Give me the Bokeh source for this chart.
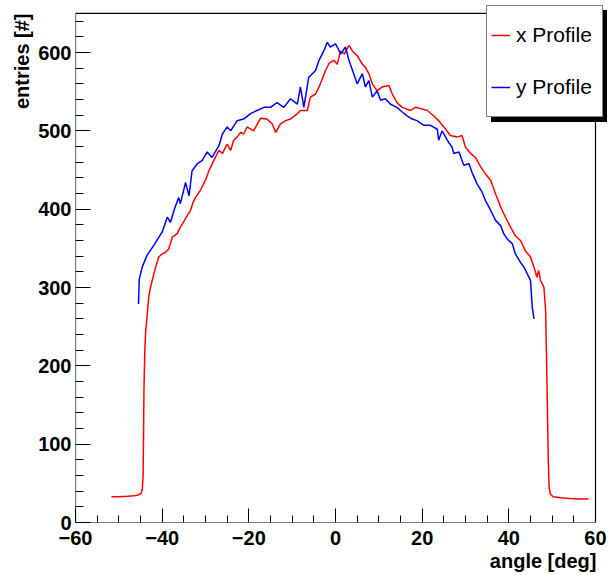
from bokeh.plotting import figure
from bokeh.models import Range1d, FixedTicker, Legend, LegendItem, Title
from bokeh.embed import file_html
from bokeh.resources import INLINE

# ---------------- data ----------------
x_profile_angle = [-51.7, -50.0, -48.0, -46.5, -45.5, -44.9, -44.6, -44.4, -44.3, -44.2,
                   -44.0, -43.8, -43.5, -43.1, -42.7, -42.3, -41.5, -40.8, -40.0, -39.2,
                   -38.5, -38.1, -37.7, -36.5, -35.8, -35.0, -34.2, -33.5, -32.9, -32.3,
                   -31.2, -30.0, -29.2, -28.1, -26.9, -26.1, -25.0, -24.2, -23.5, -22.7,
                   -21.9, -21.2, -20.4, -18.9, -17.3, -15.8, -14.6, -13.8, -12.7, -11.5,
                   -10.4, -8.8, -8.1, -6.5, -5.8, -4.6, -3.5, -2.3, -1.5, -0.4,
                   0.4, 1.2, 2.0, 3.1, 3.9, 5.0, 6.2, 6.9, 7.7, 8.5,
                   9.6, 10.8, 12.3, 13.1, 14.2, 15.4, 17.3, 18.5, 20.0, 21.2,
                   22.7, 23.8, 25.0, 26.5, 28.1, 29.2, 30.0, 31.2, 32.3, 33.5,
                   34.6, 35.8, 36.9, 38.1, 39.2, 40.4, 41.5, 42.7, 43.8, 45.0,
                   45.8, 46.5, 46.9, 47.3, 47.7, 48.1, 48.5, 48.8, 49.1, 49.3,
                   49.6, 50.2, 52.0, 54.0, 56.0, 58.4]
x_profile_entries = [33, 33, 33.5, 34, 35, 37, 42, 60, 110, 170,
                     220, 245, 262, 288, 300, 309, 326, 339, 343, 345,
                     349, 356, 364, 369, 377, 384, 392, 398, 408, 415,
                     424, 437, 449, 462, 475, 471, 483, 475, 488, 492,
                     498, 496, 505, 500, 516, 515, 509, 498, 509, 513,
                     515, 522, 526, 526, 543, 547, 560, 577, 586, 590,
                     585, 602, 598, 609, 602, 596, 585, 581, 573, 560,
                     551, 556, 558, 547, 536, 530, 526, 530, 528, 526,
                     519, 513, 505, 494, 492, 494, 479, 471, 466, 454,
                     445, 437, 420, 403, 390, 377, 366, 360, 347, 339,
                     326, 313, 322, 309, 305, 300, 270, 180, 80, 45,
                     36, 33, 31.5, 30.5, 30, 30]

y_profile_angle = [-45.46, -45.3, -44.6, -43.5, -41.9, -40.0, -38.8, -38.1, -37.3, -36.2,
                   -35.8, -34.6, -33.8, -33.1, -31.9, -30.8, -29.6, -28.5, -26.9, -26.1,
                   -25.0, -24.2, -22.7, -21.2, -19.6, -18.1, -16.5, -15.0, -13.5, -11.9,
                   -10.4, -8.8, -8.1, -7.3, -6.2, -4.6, -3.8, -2.7, -1.9, -1.2,
                   0.0, 0.6, 1.2, 2.3, 3.1, 4.2, 5.0, 6.2, 6.9, 7.7,
                   8.5, 9.6, 10.4, 11.5, 12.7, 14.2, 15.4, 16.5, 17.7, 18.8,
                   20.4, 21.9, 23.5, 23.8, 24.6, 25.8, 26.9, 27.3, 28.5, 29.6,
                   30.8, 31.5, 32.7, 33.8, 34.6, 35.4, 36.2, 36.9, 38.1, 38.8,
                   39.6, 40.8, 41.5, 42.7, 43.5, 44.2, 45.0, 45.4, 45.8]
y_profile_entries = [279, 310, 326, 341, 354, 371, 390, 383, 398, 415,
                     407, 434, 417, 449, 458, 462, 473, 466, 481, 496,
                     505, 500, 513, 515, 522, 526, 530, 530, 536, 530,
                     541, 534, 556, 530, 568, 577, 590, 602, 613, 607,
                     611, 605, 598, 607, 590, 573, 560, 573, 556, 564,
                     543, 551, 539, 541, 534, 530, 524, 519, 515, 513,
                     507, 507, 502, 488, 500, 488, 479, 471, 473, 456,
                     458, 447, 432, 422, 411, 403, 394, 386, 379, 369,
                     362, 356, 343, 332, 326, 318, 309, 275, 260]

x_major_ticks = [-60, -40, -20, 0, 20, 40, 60]
x_minor_ticks = [-55, -50, -45, -35, -30, -25, -15, -10, -5, 5, 10, 15, 25, 30, 35, 45, 50, 55]
y_major_ticks = [0, 100, 200, 300, 400, 500, 600]
y_minor_ticks = [20, 40, 60, 80, 120, 140, 160, 180, 220, 240, 260, 280, 320, 340, 360, 380,
                 420, 440, 460, 480, 520, 540, 560, 580, 620, 640]

# histogram frame (axis limits of the drawn box)
x_lo, x_hi = -60, 60
y_lo, y_hi = 0, 650

series_names = ["x Profile", "y Profile"]
x_axis_title = "angle [deg]"
y_axis_title = "entries [#]"

FONT = "Liberation Sans"

# the canvas area is a little larger than the histogram box so the legend can overhang it
p = figure(width=613, height=575, output_backend="svg", toolbar_location=None,
           x_range=Range1d(x_lo, 62.77), y_range=Range1d(y_lo, 660),
           min_border_left=75, min_border_right=6, min_border_top=5, min_border_bottom=53)
p.background_fill_color = "white"
p.border_fill_color = "white"
p.outline_line_color = None
p.xgrid.visible = False
p.ygrid.visible = False

p.xaxis.ticker = FixedTicker(ticks=x_major_ticks, minor_ticks=x_minor_ticks)
p.yaxis.ticker = FixedTicker(ticks=y_major_ticks, minor_ticks=y_minor_ticks)
for ax in (p.xaxis, p.yaxis):
    ax.axis_line_color = None
    ax.major_tick_line_color = "black"
    ax.minor_tick_line_color = "black"
    ax.major_tick_out = 0
    ax.minor_tick_out = 0
    ax.major_label_text_font = FONT
    ax.major_label_text_font_style = "bold"
    ax.major_label_text_font_size = "20px"
    ax.major_label_text_color = "black"
p.xaxis.major_tick_in = 14
p.xaxis.minor_tick_in = 7
p.yaxis.major_tick_in = 15
p.yaxis.minor_tick_in = 8
p.xaxis.major_label_standoff = 8
p.yaxis.major_label_standoff = 4

# histogram box
p.segment(x0=[x_lo, x_lo, x_hi, x_lo], y0=[y_lo, y_hi, y_lo, y_lo],
          x1=[x_lo, x_hi, x_hi, x_hi], y1=[y_hi, y_hi, y_hi, y_lo],
          line_color="black", line_width=1.2)

r_x = p.line(x_profile_angle, x_profile_entries, line_color="#ff0000", line_width=1.5)
r_y = p.line(y_profile_angle, y_profile_entries, line_color="#0000ff", line_width=1.5)

leg_kw = dict(margin=0, padding=4, spacing=2, glyph_width=19, glyph_height=50,
              label_height=50, label_width=82, label_standoff=6,
              label_text_font=FONT, label_text_font_size="21px",
              border_line_color="black", border_line_width=1)
shadow = Legend(items=[LegendItem(label=series_names[0], renderers=[r_x]),
                       LegendItem(label=series_names[1], renderers=[r_y])],
                location=(416, 400), background_fill_color="black", background_fill_alpha=1.0,
                label_text_color="black", **leg_kw)
legend = Legend(items=[LegendItem(label=series_names[0], renderers=[r_x]),
                       LegendItem(label=series_names[1], renderers=[r_y])],
                location=(411, 405), background_fill_color="white", background_fill_alpha=1.0,
                label_text_color="black", **leg_kw)
p.add_layout(shadow, "center")
p.add_layout(legend, "center")

p.add_layout(Title(text=x_axis_title, align="right", offset=11, standoff=0,
                   text_font=FONT, text_font_style="bold", text_font_size="20px",
                   text_color="black"), "below")
p.add_layout(Title(text=y_axis_title, align="right", offset=8, standoff=6,
                   text_font=FONT, text_font_style="bold", text_font_size="20px",
                   text_color="black"), "left")

open("out.html", "w").write(file_html(p, INLINE))
